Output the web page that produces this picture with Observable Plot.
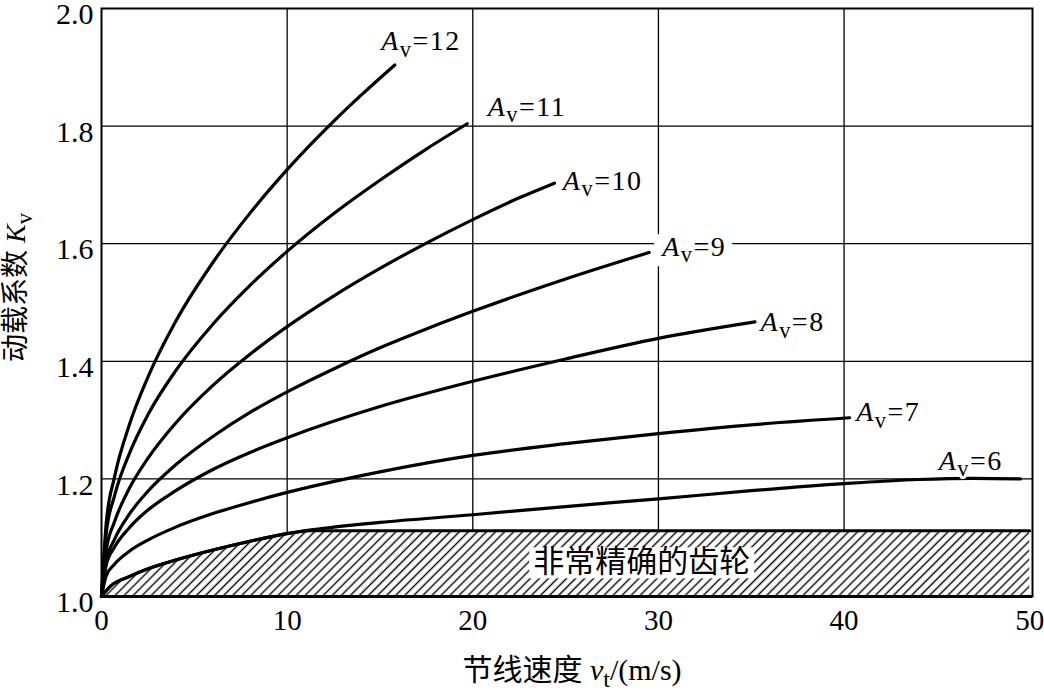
<!DOCTYPE html>
<html><head><meta charset="utf-8">
<script src="https://cdn.jsdelivr.net/npm/d3@7"></script>
<script src="https://cdn.jsdelivr.net/npm/@observablehq/plot@0.6"></script>
<style>
html,body{margin:0;padding:0;background:#fff;}
#chart svg{display:block;}
</style>
</head><body><div id="chart"></div>
<script>
const xTicks = [0, 10, 20, 30, 40, 50];
const yTicks = [1.0, 1.2, 1.4, 1.6, 1.8, 2.0];

const av12 = [[0,1.000],[0.25,1.123],[0.7,1.203],[1.5,1.292],[2.5,1.373],[4,1.468],[6,1.568],[8,1.652],[10,1.726],[12.5,1.808],[14,1.853],[15.8,1.904]];
const av11 = [[0,1.000],[0.25,1.106],[0.7,1.171],[1.5,1.243],[2.5,1.309],[4,1.384],[6,1.463],[8,1.529],[10,1.587],[12.5,1.651],[15,1.708],[17.5,1.761],[19.7,1.804]];
const av10 = [[0,1.000],[0.25,1.078],[0.7,1.127],[1.5,1.184],[2.5,1.235],[4,1.295],[6,1.359],[8,1.412],[10,1.459],[12.5,1.511],[15,1.558],[17.5,1.601],[20,1.641],[22.5,1.678],[24.4,1.703]];
const av9  = [[0,1.000],[0.25,1.059],[0.7,1.097],[1.5,1.140],[2.5,1.179],[4,1.224],[6,1.272],[8,1.313],[10,1.348],[12.5,1.387],[15,1.423],[17.5,1.455],[20,1.485],[25,1.540],[29.5,1.585]];
const av8  = [[0,1.000],[0.25,1.053],[0.7,1.084],[1.5,1.117],[2.5,1.147],[4,1.180],[6,1.216],[8,1.245],[10,1.270],[15,1.323],[20,1.366],[25,1.404],[30,1.439],[35.2,1.467]];
const av7  = [[0,1.000],[0.25,1.035],[0.7,1.055],[1.5,1.077],[2.5,1.096],[4,1.118],[6,1.141],[8,1.160],[10,1.177],[15,1.212],[20,1.240],[25,1.260],[30,1.277],[35,1.292],[40.3,1.304]];
const av6  = [[0,1.000],[0.5,1.018],[1.5,1.034],[2.5,1.047],[4,1.062],[6,1.079],[8,1.094],[10,1.107],[11.2,1.113],[12.5,1.118],[15,1.126],[20,1.139],[25,1.153],[30,1.166],[35,1.180],[40,1.192],[44,1.199],[47,1.201],[49.5,1.200]];
const preciseZone = [[0,1.000],[0.5,1.018],[1.5,1.034],[2.5,1.047],[4,1.062],[6,1.079],[8,1.094],[10,1.107],[11.2,1.112],[50,1.112]];

const gradeNames = ["12", "11", "10", "9", "8", "7", "6"];
const gradeCurves = [av12, av11, av10, av9, av8, av7, av6];
const labelV = [15.07, 20.8, 24.85, 30.2, 35.5, 40.65, 45.1];
const labelK = [1.944, 1.833, 1.706, 1.594, 1.466, 1.313, 1.231];

const zoneLabel = "非常精确的齿轮";
const zoneLabelV = [29.1];
const zoneLabelK = [1.058];
const xTitle = "节线速度 vt/(m/s)";
const yTitle = "动载系数 Kv";

const rows = gradeNames.flatMap((g, i) => gradeCurves[i].map(([v, k]) => ({grade: g, v, k})));
const zoneRows = preciseZone.map(([v, k]) => ({v, k}));

const serif = "'Liberation Serif', 'Noto Sans CJK SC', serif";

const plot = Plot.plot({
  width: 1044,
  height: 691,
  marginLeft: 101,
  marginRight: 12,
  marginTop: 8,
  marginBottom: 95,
  style: {fontFamily: serif, color: "black", background: "white"},
  x: {domain: [0, 50.15]},
  y: {domain: [1, 2]},
  marks: [
    Plot.gridX(xTicks.slice(1, -1), {stroke: "black", strokeOpacity: 1, strokeWidth: 1.3}),
    Plot.gridY(yTicks.slice(1, -1), {stroke: "black", strokeOpacity: 1, strokeWidth: 1.3}),
    Plot.areaY(zoneRows, {x: "v", y1: 1, y2: "k", fill: "url(#hatch)", curve: "monotone-x"}),
    Plot.line(zoneRows, {x: "v", y: "k", stroke: "black", strokeWidth: 3, curve: "monotone-x"}),
    Plot.line(rows, {x: "v", y: "k", z: "grade", stroke: "black", strokeWidth: 3.2, curve: "monotone-x"}),
    Plot.text([zoneLabel], {x: (d, i) => zoneLabelV[i], y: (d, i) => zoneLabelK[i], text: d => d, fontSize: 31, textAnchor: "middle", fill: "black"}),
    Plot.text(gradeNames, {x: (d, i) => labelV[i], y: (d, i) => labelK[i], text: d => "Av=" + d,
      textAnchor: "start", fontSize: 28, fill: "black", stroke: "white", strokeWidth: 6, paintOrder: "stroke", strokeLinejoin: "round"}),
    Plot.axisX(xTicks, {tickSize: 0, tickPadding: 13, fontSize: 29, label: null}),
    Plot.axisY(yTicks, {tickSize: 0, tickPadding: 8, dy: 6, fontSize: 30, tickFormat: d3.format(".1f"), label: null}),
    Plot.text([xTitle], {frameAnchor: "bottom", dy: 74, dx: 5, fontSize: 30, lineAnchor: "middle", textAnchor: "middle", fill: "black"}),
    Plot.text([yTitle], {frameAnchor: "left", dx: -85, dy: -15, rotate: -90, fontSize: 28, lineAnchor: "middle", textAnchor: "middle", fill: "black"}),
    Plot.ruleY([1], {stroke: "black", strokeWidth: 3}),
    Plot.frame({stroke: "black", strokeWidth: 2})
  ]
});

document.getElementById("chart").appendChild(plot);

// hatch pattern
const defs = d3.select(plot).insert("defs", ":first-child");
const pat = defs.append("pattern").attr("id", "hatch").attr("patternUnits", "userSpaceOnUse")
  .attr("width", 6.4).attr("height", 6.4).attr("patternTransform", "rotate(45)");
pat.append("rect").attr("width", 6.4).attr("height", 6.4).attr("fill", "white");
pat.append("line").attr("x1", 3.2).attr("y1", -1).attr("x2", 3.2).attr("y2", 7.4)
  .attr("stroke", "black").attr("stroke-width", 1.4);

// rich text (italic / subscripts)
const ns = "http://www.w3.org/2000/svg";
const gridPx = yTicks.slice(1, -1).map(t => plot.scale("y").apply(t));
function rich(el, segs, fs, spacing) {
  el.textContent = "";
  if (spacing) el.setAttribute("letter-spacing", spacing);
  let cur = 0;
  for (const [s, st] of segs) {
    const t = document.createElementNS(ns, "tspan");
    t.textContent = s;
    if (st === "i") t.setAttribute("font-style", "italic");
    if (st === "s") t.setAttribute("font-size", (fs * 0.8).toFixed(1));
    const target = st === "s" ? fs * 0.22 : 0;
    if (target !== cur) { t.setAttribute("dy", (target - cur).toFixed(2)); cur = target; }
    el.appendChild(t);
  }
}
function backRect(el, padX, padTop, padBottom) {
  const bb = el.getBBox();
  const r = document.createElementNS(ns, "rect");
  r.setAttribute("x", bb.x - padX);
  r.setAttribute("y", bb.y + padTop);
  r.setAttribute("width", bb.width + 2 * padX);
  r.setAttribute("height", bb.height - padTop - padBottom);
  r.setAttribute("fill", "white");
  const tr = el.getAttribute("transform");
  if (tr) r.setAttribute("transform", tr);
  el.parentNode.insertBefore(r, el);
  return bb;
}
plot.querySelectorAll("text").forEach(el => {
  const s = el.textContent;
  if (s.startsWith("Av=")) {
    rich(el, [["A", "i"], ["v", "s"], [s.slice(2), "n"]], 28, 1.5);
    const bb = el.getBBox();
    const ty = (el.getAttribute("transform") || "").match(/translate\(([-\d.]+),([-\d.]+)\)/);
    const oy = ty ? +ty[2] : 0;
    const top = bb.y + oy + 6, bottom = bb.y + oy + bb.height - 4;
    if (gridPx.some(g => g > top && g < bottom)) backRect(el, 3, 6, 4);
  } else if (s === xTitle) {
    rich(el, [["节线速度 ", "n"], ["v", "i"], ["t", "s"], ["/(m/s)", "n"]], 30);
  } else if (s === yTitle) {
    rich(el, [["动载系数 ", "n"], ["K", "i"], ["v", "s"]], 28);
  } else if (s === zoneLabel) {
    backRect(el, 4, 3, 1);
  }
});
</script>
</body></html>
